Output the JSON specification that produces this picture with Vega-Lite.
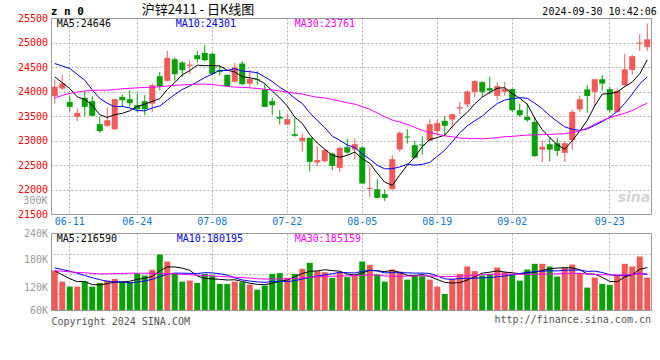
{
"$schema": "https://vega.github.io/schema/vega-lite/v6.json",
"background": "#ffffff",
"padding": {"left": 16, "top": 3, "right": 4, "bottom": 2},
"spacing": 0,
"config": {
  "view": {"stroke": "#999999", "strokeWidth": 1},
  "font": "DejaVu Sans Mono",
  "axis": {"labelFont": "DejaVu Sans Mono", "labelFontSize": 10, "ticks": false, "domain": false, "gridDash": [2, 2], "gridColor": "#b0b0b0", "labelOverlap": false, "labelFlush": false, "labelBound": false}
},
"datasets": {"k": [
{"d":"06-06","o":23904,"h":24244,"l":23754,"c":24095,"v":201600,"m5":24298,"m10":24571,"m30":23869,"vm5":200000,"vm10":215000,"vm30":200000},
{"d":"06-07","o":24060,"h":24333,"l":24026,"c":24163,"v":145200,"m5":24180,"m10":24520,"m30":23920,"vm5":180000,"vm10":207000,"vm30":198000},
{"d":"06-11","o":23788,"h":23904,"l":23598,"c":23686,"v":119500,"m5":24060,"m10":24469,"m30":23960,"vm5":160000,"vm10":198000,"vm30":195000},
{"d":"06-12","o":23482,"h":23652,"l":23394,"c":23564,"v":119500,"m5":23890,"m10":24350,"m30":23990,"vm5":145000,"vm10":188000,"vm30":192000},
{"d":"06-13","o":23870,"h":24006,"l":23496,"c":23686,"v":145200,"m5":23839,"m10":24230,"m30":24010,"vm5":146200,"vm10":176000,"vm30":190000},
{"d":"06-14","o":23802,"h":23904,"l":23496,"c":23503,"v":119500,"m5":23720,"m10":24035,"m30":24025,"vm5":129800,"vm10":165000,"vm30":187000},
{"d":"06-17","o":23333,"h":23482,"l":23162,"c":23190,"v":138500,"m5":23526,"m10":23860,"m30":24026,"vm5":128400,"vm10":155000,"vm30":185000},
{"d":"06-18","o":23299,"h":23666,"l":23278,"c":23414,"v":150300,"m5":23471,"m10":23760,"m30":24026,"vm5":134600,"vm10":147000,"vm30":185000},
{"d":"06-19","o":23231,"h":23850,"l":23210,"c":23843,"v":159000,"m5":23527,"m10":23690,"m30":24040,"vm5":142500,"vm10":143000,"vm30":186000},
{"d":"06-20","o":23890,"h":23938,"l":23686,"c":23822,"v":145200,"m5":23554,"m10":23697,"m30":24055,"vm5":142500,"vm10":144400,"vm30":187000},
{"d":"06-21","o":23843,"h":24026,"l":23686,"c":23761,"v":142100,"m5":23606,"m10":23663,"m30":24065,"vm5":147000,"vm10":138400,"vm30":188000},
{"d":"06-24","o":23720,"h":23958,"l":23571,"c":23639,"v":188300,"m5":23696,"m10":23611,"m30":24075,"vm5":157000,"vm10":142700,"vm30":188000},
{"d":"06-25","o":23802,"h":23924,"l":23516,"c":23639,"v":176000,"m5":23741,"m10":23606,"m30":24082,"vm5":162100,"vm10":148400,"vm30":188000},
{"d":"06-26","o":23754,"h":24163,"l":23584,"c":24128,"v":205200,"m5":23798,"m10":23663,"m30":24089,"vm5":171400,"vm10":156900,"vm30":188000},
{"d":"06-27","o":24312,"h":24401,"l":24026,"c":24108,"v":283700,"m5":23855,"m10":23705,"m30":24096,"vm5":199100,"vm10":170800,"vm30":187000},
{"d":"06-28","o":24217,"h":24829,"l":24200,"c":24686,"v":247800,"m5":24040,"m10":23823,"m30":24112,"vm5":220200,"vm10":183600,"vm30":186000},
{"d":"07-01","o":24659,"h":24693,"l":24217,"c":24353,"v":188300,"m5":24183,"m10":23939,"m30":24127,"vm5":220200,"vm10":188600,"vm30":185000},
{"d":"07-02","o":24591,"h":24625,"l":24299,"c":24435,"v":145200,"m5":24342,"m10":24041,"m30":24135,"vm5":214000,"vm10":188100,"vm30":182000},
{"d":"07-03","o":24523,"h":24639,"l":24353,"c":24550,"v":150300,"m5":24426,"m10":24112,"m30":24142,"vm5":203100,"vm10":187200,"vm30":180000},
{"d":"07-04","o":24741,"h":24829,"l":24591,"c":24659,"v":138500,"m5":24537,"m10":24196,"m30":24148,"vm5":174000,"vm10":186500,"vm30":178000},
{"d":"07-05","o":24788,"h":24945,"l":24620,"c":24639,"v":184700,"m5":24527,"m10":24284,"m30":24152,"vm5":161400,"vm10":190800,"vm30":176000},
{"d":"07-08","o":24770,"h":24790,"l":24340,"c":24360,"v":176000,"m5":24529,"m10":24356,"m30":24140,"vm5":158900,"vm10":189600,"vm30":174000},
{"d":"07-09","o":24435,"h":24525,"l":24325,"c":24395,"v":133400,"m5":24521,"m10":24431,"m30":24125,"vm5":156600,"vm10":185300,"vm30":172000},
{"d":"07-10","o":24340,"h":24350,"l":24090,"c":24110,"v":133400,"m5":24433,"m10":24430,"m30":24103,"vm5":153200,"vm10":178100,"vm30":169000},
{"d":"07-11","o":24197,"h":24578,"l":24183,"c":24489,"v":145200,"m5":24399,"m10":24468,"m30":24090,"vm5":154500,"vm10":164300,"vm30":168000},
{"d":"07-12","o":24571,"h":24620,"l":24130,"c":24149,"v":142100,"m5":24301,"m10":24414,"m30":24084,"vm5":146000,"vm10":153700,"vm30":166000},
{"d":"07-15","o":24160,"h":24435,"l":24065,"c":24255,"v":129800,"m5":24280,"m10":24404,"m30":24076,"vm5":136800,"vm10":147900,"vm30":163000},
{"d":"07-16","o":24251,"h":24414,"l":24135,"c":24238,"v":104100,"m5":24248,"m10":24384,"m30":24060,"vm5":130900,"vm10":143800,"vm30":160000},
{"d":"07-17","o":24040,"h":24150,"l":23680,"c":23686,"v":124700,"m5":24163,"m10":24298,"m30":24045,"vm5":129200,"vm10":141200,"vm30":158000},
{"d":"07-18","o":23802,"h":23870,"l":23516,"c":23720,"v":184700,"m5":24010,"m10":24204,"m30":24032,"vm5":137100,"vm10":145800,"vm30":158900},
{"d":"07-19","o":23482,"h":23618,"l":23326,"c":23448,"v":188300,"m5":23869,"m10":24085,"m30":24011,"vm5":146300,"vm10":146200,"vm30":158500},
{"d":"07-22","o":23326,"h":23550,"l":23312,"c":23435,"v":164200,"m5":23705,"m10":23993,"m30":23986,"vm5":153200,"vm10":145000,"vm30":159100},
{"d":"07-23","o":23129,"h":23462,"l":23074,"c":23095,"v":184700,"m5":23477,"m10":23863,"m30":23967,"vm5":169300,"vm10":150100,"vm30":161300},
{"d":"07-24","o":22992,"h":23142,"l":22782,"c":23054,"v":210300,"m5":23350,"m10":23757,"m30":23950,"vm5":186400,"vm10":157800,"vm30":164300},
{"d":"07-25","o":23054,"h":23060,"l":22373,"c":22564,"v":241100,"m5":23119,"m10":23564,"m30":23912,"vm5":197700,"vm10":167400,"vm30":167500},
{"d":"07-26","o":22550,"h":22884,"l":22482,"c":22598,"v":198500,"m5":22949,"m10":23409,"m30":23882,"vm5":199800,"vm10":173000,"vm30":170100},
{"d":"07-29","o":22578,"h":22822,"l":22550,"c":22802,"v":193400,"m5":22823,"m10":23264,"m30":23869,"vm5":205600,"vm10":179400,"vm30":171900},
{"d":"07-30","o":22734,"h":22754,"l":22394,"c":22482,"v":164200,"m5":22700,"m10":23088,"m30":23838,"vm5":201500,"vm10":185400,"vm30":172400},
{"d":"07-31","o":22442,"h":22870,"l":22360,"c":22850,"v":193400,"m5":22659,"m10":23005,"m30":23805,"vm5":198100,"vm10":192300,"vm30":173600},
{"d":"08-01","o":22865,"h":23040,"l":22714,"c":22754,"v":167800,"m5":22697,"m10":22908,"m30":23769,"vm5":183500,"vm10":190600,"vm30":174300},
{"d":"08-02","o":22816,"h":23040,"l":22612,"c":22925,"v":176000,"m5":22763,"m10":22856,"m30":23742,"vm5":179000,"vm10":189400,"vm30":175400},
{"d":"08-05","o":22857,"h":22884,"l":22115,"c":22122,"v":247800,"m5":22627,"m10":22725,"m30":23691,"vm5":189800,"vm10":197700,"vm30":177400},
{"d":"08-06","o":22013,"h":22476,"l":21850,"c":22033,"v":230900,"m5":22537,"m10":22618,"m30":23637,"vm5":203200,"vm10":202300,"vm30":179300},
{"d":"08-07","o":22006,"h":22210,"l":21816,"c":21829,"v":181100,"m5":22333,"m10":22496,"m30":23561,"vm5":200700,"vm10":199400,"vm30":178500},
{"d":"08-08","o":21904,"h":22000,"l":21768,"c":21829,"v":145200,"m5":22148,"m10":22422,"m30":23485,"vm5":196200,"vm10":189800,"vm30":173800},
{"d":"08-09","o":22006,"h":22700,"l":22000,"c":22618,"v":206700,"m5":22086,"m10":22424,"m30":23416,"vm5":202300,"vm10":190700,"vm30":172500},
{"d":"08-12","o":22816,"h":23190,"l":22768,"c":23156,"v":196500,"m5":22293,"m10":22460,"m30":23376,"vm5":192100,"vm10":191000,"vm30":172700},
{"d":"08-13","o":23081,"h":23231,"l":22938,"c":23061,"v":155400,"m5":22499,"m10":22518,"m30":23330,"vm5":177000,"vm10":190100,"vm30":173100},
{"d":"08-14","o":22904,"h":22993,"l":22632,"c":22646,"v":176000,"m5":22662,"m10":22497,"m30":23267,"vm5":176000,"vm10":188300,"vm30":173900},
{"d":"08-15","o":22918,"h":23088,"l":22714,"c":22898,"v":172900,"m5":22876,"m10":22512,"m30":23208,"vm5":181500,"vm10":188900,"vm30":175100},
{"d":"08-16","o":22996,"h":23435,"l":22972,"c":23333,"v":155400,"m5":23019,"m10":22553,"m30":23164,"vm5":171200,"vm10":186800,"vm30":174100},
{"d":"08-19","o":23190,"h":23428,"l":23108,"c":23360,"v":119500,"m5":23060,"m10":22676,"m30":23131,"vm5":155800,"vm10":174000,"vm30":172200},
{"d":"08-20","o":23401,"h":23496,"l":23088,"c":23299,"v":82100,"m5":23107,"m10":22803,"m30":23095,"vm5":141200,"vm10":159100,"vm30":170500},
{"d":"08-21","o":23428,"h":23545,"l":23244,"c":23537,"v":159000,"m5":23285,"m10":22974,"m30":23076,"vm5":137800,"vm10":156900,"vm30":171400},
{"d":"08-22","o":23653,"h":23788,"l":23537,"c":23680,"v":184700,"m5":23442,"m10":23159,"m30":23049,"vm5":140100,"vm10":160800,"vm30":172700},
{"d":"08-23","o":23737,"h":24027,"l":23673,"c":24000,"v":222100,"m5":23575,"m10":23297,"m30":23044,"vm5":153500,"vm10":162400,"vm30":175400},
{"d":"08-26","o":23993,"h":24231,"l":23877,"c":24213,"v":198500,"m5":23746,"m10":23403,"m30":23042,"vm5":169300,"vm10":162600,"vm30":177600},
{"d":"08-27","o":24190,"h":24210,"l":23890,"c":23993,"v":176000,"m5":23885,"m10":23496,"m30":23034,"vm5":188100,"vm10":164600,"vm30":180000},
{"d":"08-28","o":24068,"h":24299,"l":23950,"c":24020,"v":184700,"m5":23981,"m10":23633,"m30":23045,"vm5":193200,"vm10":165500,"vm30":182000},
{"d":"08-29","o":23911,"h":24190,"l":23830,"c":24108,"v":217000,"m5":24067,"m10":23754,"m30":23058,"vm5":199700,"vm10":169900,"vm30":183100},
{"d":"08-30","o":23993,"h":24196,"l":23915,"c":24050,"v":193400,"m5":24077,"m10":23826,"m30":23078,"vm5":193900,"vm10":173700,"vm30":183300},
{"d":"09-02","o":24050,"h":24060,"l":23584,"c":23618,"v":181100,"m5":23958,"m10":23852,"m30":23084,"vm5":190400,"vm10":179900,"vm30":183800},
{"d":"09-03","o":23618,"h":23754,"l":23482,"c":23516,"v":150300,"m5":23862,"m10":23874,"m30":23098,"vm5":185300,"vm10":186700,"vm30":182700},
{"d":"09-04","o":23482,"h":23754,"l":23380,"c":23414,"v":206700,"m5":23741,"m10":23861,"m30":23110,"vm5":189700,"vm10":191500,"vm30":182600},
{"d":"09-05","o":23380,"h":23482,"l":22666,"c":22680,"v":236000,"m5":23456,"m10":23761,"m30":23114,"vm5":193500,"vm10":196600,"vm30":182400},
{"d":"09-06","o":22815,"h":23000,"l":22564,"c":22870,"v":236000,"m5":23220,"m10":23648,"m30":23123,"vm5":202000,"vm10":198000,"vm30":183700},
{"d":"09-09","o":22924,"h":23050,"l":22574,"c":22815,"v":222100,"m5":23059,"m10":23508,"m30":23124,"vm5":210200,"vm10":200300,"vm30":184600},
{"d":"09-10","o":22945,"h":23055,"l":22680,"c":22788,"v":170800,"m5":22913,"m10":23388,"m30":23134,"vm5":214300,"vm10":199800,"vm30":184800},
{"d":"09-11","o":22748,"h":22990,"l":22564,"c":22945,"v":215500,"m5":22820,"m10":23280,"m30":23137,"vm5":216100,"vm10":202900,"vm30":185600},
{"d":"09-12","o":23006,"h":23632,"l":22810,"c":23584,"v":232400,"m5":23000,"m10":23228,"m30":23165,"vm5":215400,"vm10":204400,"vm30":187700},
{"d":"09-13","o":23636,"h":23918,"l":23584,"c":23840,"v":188300,"m5":23194,"m10":23207,"m30":23195,"vm5":205800,"vm10":203900,"vm30":188100},
{"d":"09-18","o":24044,"h":24128,"l":23566,"c":23908,"v":114400,"m5":23413,"m10":23236,"m30":23255,"vm5":184300,"vm10":197300,"vm30":183700},
{"d":"09-19","o":23993,"h":24255,"l":23720,"c":24250,"v":165700,"m5":23705,"m10":23309,"m30":23329,"vm5":183300,"vm10":198800,"vm30":181500},
{"d":"09-20","o":24250,"h":24333,"l":24020,"c":24162,"v":133400,"m5":23949,"m10":23384,"m30":23406,"vm5":166800,"vm10":191500,"vm30":179900},
{"d":"09-23","o":24047,"h":24088,"l":23570,"c":23618,"v":128300,"m5":23956,"m10":23478,"m30":23466,"vm5":146000,"vm10":180700,"vm30":179400},
{"d":"09-24","o":23584,"h":24060,"l":23584,"c":24013,"v":181100,"m5":23990,"m10":23592,"m30":23513,"vm5":144600,"vm10":175200,"vm30":178500},
{"d":"09-25","o":24128,"h":24768,"l":24100,"c":24452,"v":236000,"m5":24099,"m10":23756,"m30":23556,"vm5":168900,"vm10":176600,"vm30":179800},
{"d":"09-26","o":24440,"h":24741,"l":24340,"c":24720,"v":222100,"m5":24193,"m10":23949,"m30":23611,"vm5":180200,"vm10":181700,"vm30":182000},
{"d":"09-27","o":24979,"h":25169,"l":24829,"c":25000,"v":273400,"m5":24361,"m10":24155,"m30":23689,"vm5":208200,"vm10":187500,"vm30":185300},
{"d":"09-30","o":24911,"h":25387,"l":24829,"c":25065,"v":165700,"m5":24646,"m10":24301,"m30":23761,"vm5":216590,"vm10":180195,"vm30":185159}
]},
"vconcat": [
 {
  "width": 600, "height": 196,
  "data": {"name": "k"},
  "resolve": {"axis": {"y": "independent"}},
  "encoding": {"x": {"field": "d", "type": "ordinal", "sort": null, "title": null,
     "scale": {"type": "band", "paddingInner": 0, "paddingOuter": 0},
     "axis": {"values": ["06-11","06-24","07-08","07-22","08-05","08-19","09-02","09-23"], "labelAngle": 0, "labelColor": "#1478d2", "labelPadding": 2.5, "labelBaseline": "top", "labelOverlap": false, "grid": true, "bandPosition": 0.5}}},
  "layer": [
   {"mark": {"type": "rule", "strokeWidth": 1},
    "encoding": {
      "y": {"field": "l", "type": "quantitative", "title": null,
        "scale": {"domain": [21500, 25500], "nice": false, "zero": false},
        "axis": {"values": [21500, 22000, 22500, 23000, 23500, 24000, 24500, 25000, 25500], "format": "d",
          "labelOverlap": false, "labelFlush": false, "labelColor": "#ff0000",
          "gridOpacity": {"condition": {"test": "datum.value == 21500 || datum.value == 25500", "value": 0}, "value": 1},
          "grid": true, "labelPadding": 3.5}},
      "y2": {"field": "h"},
      "color": {"condition": {"test": "datum.c >= datum.o", "value": "#f25a5a"}, "value": "#0a9f0a"}}},
   {"mark": {"type": "bar", "width": 6},
    "encoding": {
      "y": {"field": "o", "type": "quantitative", "title": null, "axis": null},
      "y2": {"field": "c"},
      "color": {"condition": {"test": "datum.c >= datum.o", "value": "#f25a5a"}, "value": "#0a9f0a"}}},
   {"mark": {"type": "line", "color": "#000000", "strokeWidth": 1}, "encoding": {"y": {"field": "m5", "type": "quantitative", "title": null, "axis": null}}},
   {"mark": {"type": "line", "color": "#0000ff", "strokeWidth": 1}, "encoding": {"y": {"field": "m10", "type": "quantitative", "title": null, "axis": null}}},
   {"mark": {"type": "line", "color": "#ff00ff", "strokeWidth": 1}, "encoding": {"y": {"field": "m30", "type": "quantitative", "title": null, "axis": null}}},
   {"data": {"values": [{"t": "MA5:24646"}]},
    "mark": {"type": "text", "align": "left", "baseline": "top", "dx": 2, "dy": 1, "fontSize": 10, "color": "#000000"},
    "encoding": {"x": {"datum": "06-06", "type": "ordinal"}, "y": {"datum": 25500, "type": "quantitative", "axis": null}, "text": {"field": "t"}}},
   {"data": {"values": [{"t": "MA10:24301"}]},
    "mark": {"type": "text", "align": "left", "baseline": "top", "dx": 1, "dy": 1, "fontSize": 10, "color": "#0000ff"},
    "encoding": {"x": {"datum": "07-01", "type": "ordinal"}, "y": {"datum": 25500, "type": "quantitative", "axis": null}, "text": {"field": "t"}}},
   {"data": {"values": [{"t": "MA30:23761"}]},
    "mark": {"type": "text", "align": "left", "baseline": "top", "dx": 0, "dy": 1, "fontSize": 10, "color": "#ff00ff"},
    "encoding": {"x": {"datum": "07-23", "type": "ordinal"}, "y": {"datum": 25500, "type": "quantitative", "axis": null}, "text": {"field": "t"}}},
   {"data": {"values": [{"t": "300K"}]},
    "mark": {"type": "text", "align": "right", "baseline": "middle", "dx": -7.3, "fontSize": 10, "color": "#9a9a9a"},
    "encoding": {"x": {"datum": "06-06", "type": "ordinal"}, "y": {"datum": 21770, "type": "quantitative", "axis": null}, "text": {"field": "t"}}},
   {"data": {"values": [{"t": "z n 0"}]},
    "mark": {"type": "text", "align": "left", "baseline": "middle", "dx": -4, "dy": -6, "fontSize": 11, "fontWeight": "bold", "color": "#000000"},
    "encoding": {"x": {"datum": "06-06", "type": "ordinal"}, "y": {"datum": 25500, "type": "quantitative", "axis": null}, "text": {"field": "t"}}},
   {"data": {"values": [{"t": "沪锌2411 - 日K线图"}]},
    "mark": {"type": "text", "align": "left", "baseline": "middle", "dx": -3, "dy": -8.5, "font": "Noto Sans CJK SC", "fontSize": 13, "color": "#000000"},
    "encoding": {"x": {"datum": "06-25", "type": "ordinal"}, "y": {"datum": 25500, "type": "quantitative", "axis": null}, "text": {"field": "t"}}},
   {"data": {"values": [{"t": "2024-09-30 10:42:06"}]},
    "mark": {"type": "text", "align": "right", "baseline": "middle", "dx": 9.5, "dy": -6, "fontSize": 10, "color": "#000000"},
    "encoding": {"x": {"datum": "09-30", "type": "ordinal"}, "y": {"datum": 25500, "type": "quantitative", "axis": null}, "text": {"field": "t"}}},
   {"data": {"values": [{"t": "sina"}]},
    "mark": {"type": "text", "align": "right", "baseline": "middle", "dx": 3, "font": "DejaVu Sans", "fontSize": 14, "fontStyle": "italic", "fontWeight": "bold", "color": "#d4d4d4"},
    "encoding": {"x": {"datum": "09-30", "type": "ordinal"}, "y": {"datum": 21820, "type": "quantitative", "axis": null}, "text": {"field": "t"}}}
  ]
 },
 {
  "width": 600, "height": 77,
  "title": {"text": "http://finance.sina.com.cn", "orient": "bottom", "anchor": "end", "frame": "group", "font": "DejaVu Sans Mono", "fontSize": 10, "fontWeight": "normal", "color": "#555555", "offset": 0, "dy": -11, "baseline": "top"},
  "data": {"name": "k"},
  "resolve": {"axis": {"y": "independent"}},
  "encoding": {"x": {"field": "d", "type": "ordinal", "sort": null,
     "scale": {"type": "band", "paddingInner": 0, "paddingOuter": 0},
     "axis": {"values": ["06-11","06-24","07-08","07-22","08-05","08-19","09-02","09-23"], "labels": false, "grid": true, "bandPosition": 0.5,
       "title": "Copyright 2024 SINA.COM", "titleAnchor": "start", "titleAlign": "left", "titleFont": "DejaVu Sans Mono", "titleFontSize": 10, "titleFontWeight": "normal", "titleColor": "#555555", "titlePadding": 6, "titleBaseline": "top"}}},
  "layer": [
   {"mark": {"type": "bar", "width": 6},
    "encoding": {
      "y": {"field": "v", "type": "quantitative", "title": null,
        "scale": {"domain": [0, 393500], "nice": false, "zero": true},
        "axis": {"values": [0, 112900, 260600, 393500],
          "labelExpr": "datum.value == 0 ? '60K' : datum.value == 112900 ? '120K' : datum.value == 260600 ? '180K' : '240K'",
          "labelOverlap": false, "labelFlush": false, "grid": false, "labelColor": "#9a9a9a", "labelPadding": 3.5}},
      "color": {"condition": {"test": "datum.c >= datum.o", "value": "#f25a5a"}, "value": "#0a9f0a"}}},
   {"mark": {"type": "line", "color": "#000000", "strokeWidth": 1},
    "encoding": {"y": {"field": "vm5", "type": "quantitative", "title": null,
      "axis": {"orient": "right", "values": [80000, 182600, 285200], "labels": false, "grid": true, "domain": false, "ticks": false}}}},
   {"mark": {"type": "line", "color": "#0000ff", "strokeWidth": 1}, "encoding": {"y": {"field": "vm10", "type": "quantitative", "title": null, "axis": null}}},
   {"mark": {"type": "line", "color": "#ff00ff", "strokeWidth": 1}, "encoding": {"y": {"field": "vm30", "type": "quantitative", "title": null, "axis": null}}},
   {"data": {"values": [{"t": "MA5:216590"}]},
    "mark": {"type": "text", "align": "left", "baseline": "top", "dx": 2, "dy": 1, "fontSize": 10, "color": "#000000"},
    "encoding": {"x": {"datum": "06-06", "type": "ordinal"}, "y": {"datum": 393500, "type": "quantitative", "axis": null}, "text": {"field": "t"}}},
   {"data": {"values": [{"t": "MA10:180195"}]},
    "mark": {"type": "text", "align": "left", "baseline": "top", "dx": 2, "dy": 1, "fontSize": 10, "color": "#0000ff"},
    "encoding": {"x": {"datum": "07-01", "type": "ordinal"}, "y": {"datum": 393500, "type": "quantitative", "axis": null}, "text": {"field": "t"}}},
   {"data": {"values": [{"t": "MA30:185159"}]},
    "mark": {"type": "text", "align": "left", "baseline": "top", "dx": 0, "dy": 1, "fontSize": 10, "color": "#ff00ff"},
    "encoding": {"x": {"datum": "07-23", "type": "ordinal"}, "y": {"datum": 393500, "type": "quantitative", "axis": null}, "text": {"field": "t"}}}
  ]
 }
]
}
